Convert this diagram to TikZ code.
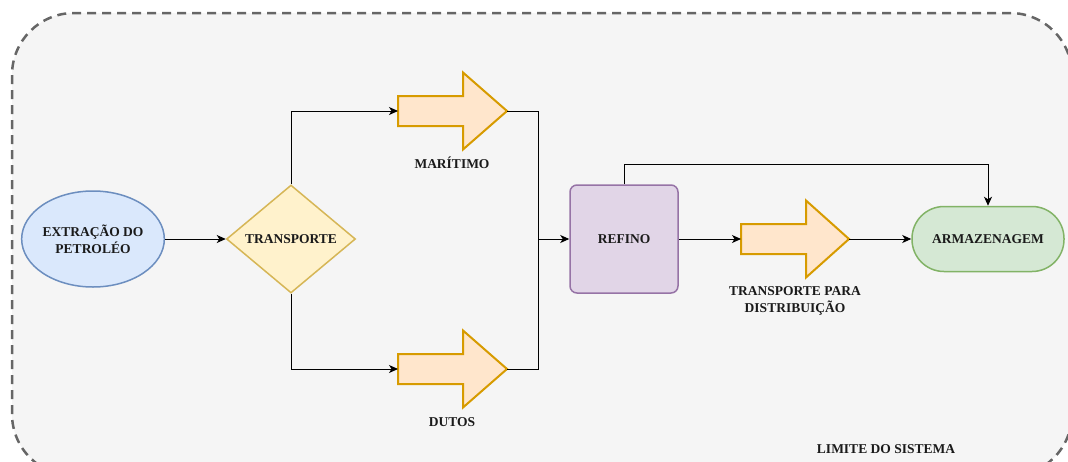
\documentclass[tikz,border=0pt]{standalone}
\usepackage{fontspec}
\setmainfont{Liberation Serif}
\usetikzlibrary{shapes.geometric,arrows.meta}
\definecolor{bgfill}{HTML}{F5F5F5}
\definecolor{bgline}{HTML}{666666}
\definecolor{bluefill}{HTML}{DAE8FC}
\definecolor{blueline}{HTML}{6C8EBF}
\definecolor{yelfill}{HTML}{FFF2CC}
\definecolor{yelline}{HTML}{D6B656}
\definecolor{orfill}{HTML}{FFE6CC}
\definecolor{orline}{HTML}{D79B00}
\definecolor{purfill}{HTML}{E1D5E7}
\definecolor{purline}{HTML}{9673A6}
\definecolor{grfill}{HTML}{D5E8D4}
\definecolor{grline}{HTML}{82B366}
\definecolor{txt}{HTML}{1A1A1A}
\tikzset{
  lbl/.style={font=\bfseries\fontsize{13.5}{17}\selectfont, text=txt, inner sep=0, align=center},
  conn/.style={draw=black, line width=1pt, -{Stealth[length=9pt,width=8pt,inset=2.5pt]}},
  plain/.style={draw=black, line width=1pt},
  blk/.style={draw=orline, fill=orfill, line width=2pt, line join=miter},
  holder/.style={minimum width=109, minimum height=77, inner sep=0, anchor=west, draw=none},
}
\begin{document}
\begin{tikzpicture}[x=1pt,y=-1pt]
\useasboundingbox (0,0) rectangle (1068,461);
\begin{scope}
  \clip (0,0) rectangle (1068,461);
  \draw[fill=bgfill, draw=bgline, line width=2.5pt, dash pattern=on 9pt off 6pt, rounded corners=62pt] (12,13) rectangle (1072,476);
\end{scope}

% nodes
\node[ellipse, draw=blueline, fill=bluefill, line width=1.5pt, minimum width=140, minimum height=96, lbl] (ext) at (93,239) {EXTRAÇÃO DO\\PETROLÉO};
\node[diamond, draw=yelline, fill=yelfill, line width=1.5pt, minimum width=129, minimum height=108, aspect=1.2, lbl] (tr) at (291,239) {TRANSPORTE};

\node[holder] (mar) at (398,111) {};
\draw[blk, shift={(398,111)}] (0,-15) -- (65,-15) -- (65,-38.5) -- (109,0) -- (65,38.5) -- (65,15) -- (0,15) -- cycle;
\node[lbl] (marl) at (452,163) {MARÍTIMO};

\node[holder] (dut) at (398,369) {};
\draw[blk, shift={(398,369)}] (0,-15) -- (65,-15) -- (65,-38.5) -- (109,0) -- (65,38.5) -- (65,15) -- (0,15) -- cycle;
\node[lbl] (dutl) at (452,422) {DUTOS};

\node[rectangle, rounded corners=7pt, draw=purline, fill=purfill, line width=1.5pt, minimum width=108, minimum height=108, lbl] (ref) at (624,239) {REFINO};

\node[holder, minimum width=108] (dist) at (741,239) {};
\draw[blk, shift={(741,239)}] (0,-15) -- (65,-15) -- (65,-38.5) -- (108,0) -- (65,38.5) -- (65,15) -- (0,15) -- cycle;
\node[lbl] (distl) at (795,301) {TRANSPORTE PARA\\DISTRIBUIÇÃO};

\node[rectangle, rounded corners=32pt, draw=grline, fill=grfill, line width=1.5pt, minimum width=152, minimum height=65, lbl] (arm) at (988,239) {ARMAZENAGEM};

\node[lbl] (lim) at (886,449) {LIMITE DO SISTEMA};

% connectors
\coordinate (jn) at (538,239);
\draw[conn] (ext.east) -- (tr.west);
\draw[conn] (tr.north) |- (mar.west);
\draw[conn] (tr.south) |- (dut.west);
\draw[plain] (mar.east) -| (jn);
\draw[plain] (dut.east) -| (jn);
\draw[conn] (jn) -- (ref.west);
\draw[conn] (ref.north) -- (ref.north |- 0,164) -| (arm.north);
\draw[conn] (ref.east) -- (dist.west);
\draw[conn] (dist.east) -- (arm.west);
\end{tikzpicture}
\end{document}
